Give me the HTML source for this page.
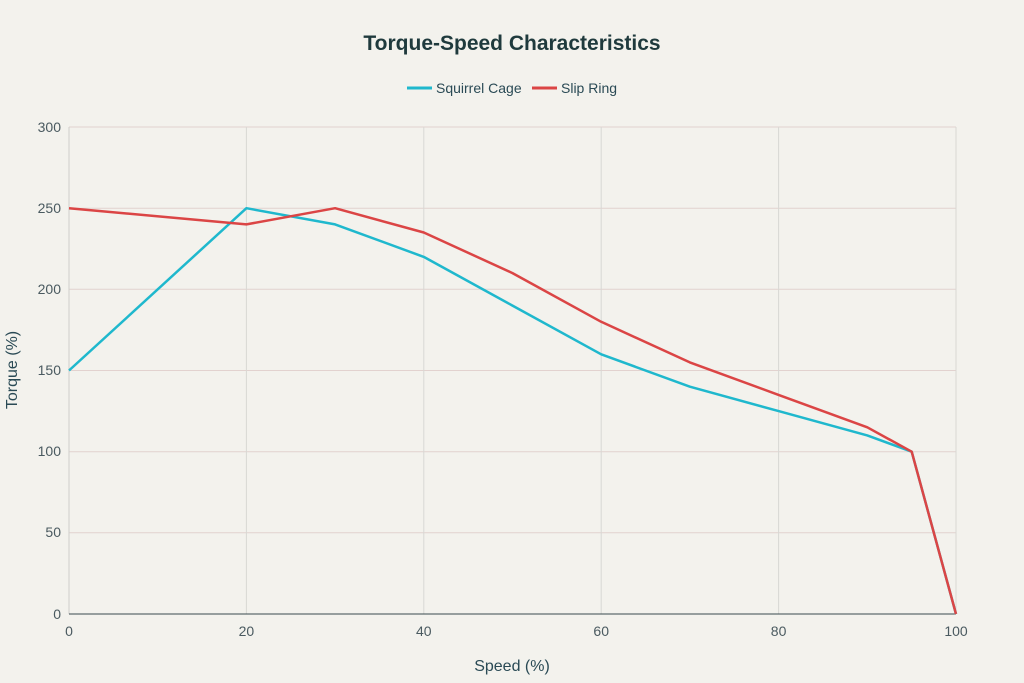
<!DOCTYPE html>
<html><head><meta charset="utf-8"><style>
body{margin:0;background:#f3f2ed;}
svg{display:block;font-family:"Liberation Sans",sans-serif;}
</style></head><body>
<svg width="1024" height="683" viewBox="0 0 1024 683">
<rect width="1024" height="683" fill="#f3f2ed"/>
<text x="512" y="50" text-anchor="middle" font-size="21" font-weight="bold" fill="#1f3a3d">Torque-Speed Characteristics</text>
<line x1="407" y1="88" x2="432" y2="88" stroke="#1fb8cd" stroke-width="3"/>
<text x="436" y="93" font-size="14" fill="#2a4a55">Squirrel Cage</text>
<line x1="532" y1="88" x2="557" y2="88" stroke="#db4545" stroke-width="3"/>
<text x="561" y="93" font-size="14" fill="#2a4a55">Slip Ring</text>
<g stroke="#e2d2cf" stroke-width="1">
<line x1="69" y1="127" x2="956" y2="127"/><line x1="69" y1="208.2" x2="956" y2="208.2"/>
<line x1="69" y1="289.3" x2="956" y2="289.3"/><line x1="69" y1="370.5" x2="956" y2="370.5"/>
<line x1="69" y1="451.7" x2="956" y2="451.7"/><line x1="69" y1="532.8" x2="956" y2="532.8"/>
</g>
<g stroke="#d8d8d4" stroke-width="1">
<line x1="246.4" y1="127" x2="246.4" y2="614"/><line x1="423.8" y1="127" x2="423.8" y2="614"/>
<line x1="601.2" y1="127" x2="601.2" y2="614"/><line x1="778.6" y1="127" x2="778.6" y2="614"/>
<line x1="956" y1="127" x2="956" y2="614"/>
</g>
<line x1="69" y1="127" x2="69" y2="614" stroke="#cfcfcb"/>
<line x1="69" y1="614" x2="956" y2="614" stroke="#3a4a4f" stroke-width="1"/>
<g font-size="14" fill="#4a5a60" text-anchor="end">
<text x="61" y="132">300</text><text x="61" y="213">250</text><text x="61" y="294">200</text>
<text x="61" y="375">150</text><text x="61" y="456">100</text><text x="61" y="537">50</text><text x="61" y="619">0</text>
</g>
<g font-size="14" fill="#4a5a60" text-anchor="middle">
<text x="69" y="636">0</text><text x="246.4" y="636">20</text><text x="423.8" y="636">40</text>
<text x="601.2" y="636">60</text><text x="778.6" y="636">80</text><text x="956" y="636">100</text>
</g>
<text x="512" y="671" text-anchor="middle" font-size="16" fill="#2a4a55">Speed (%)</text>
<text transform="translate(17,370) rotate(-90)" text-anchor="middle" font-size="16" fill="#2a4a55">Torque (%)</text>
<polyline fill="none" stroke="#1fb8cd" stroke-width="2.5" stroke-linejoin="round" points="69,370.5 246.4,208.2 335.1,224.4 423.8,256.9 512.5,305.6 601.2,354.3 689.9,386.7 778.6,411.1 867.3,435.4 911.7,451.7 956,614"/>
<polyline fill="none" stroke="#db4545" stroke-width="2.5" stroke-linejoin="round" points="69,208.2 246.4,224.4 335.1,208.2 423.8,232.5 512.5,273.1 601.2,321.8 689.9,362.4 778.6,394.9 867.3,427.3 911.7,451.7 956,614"/>
</svg>
</body></html>
